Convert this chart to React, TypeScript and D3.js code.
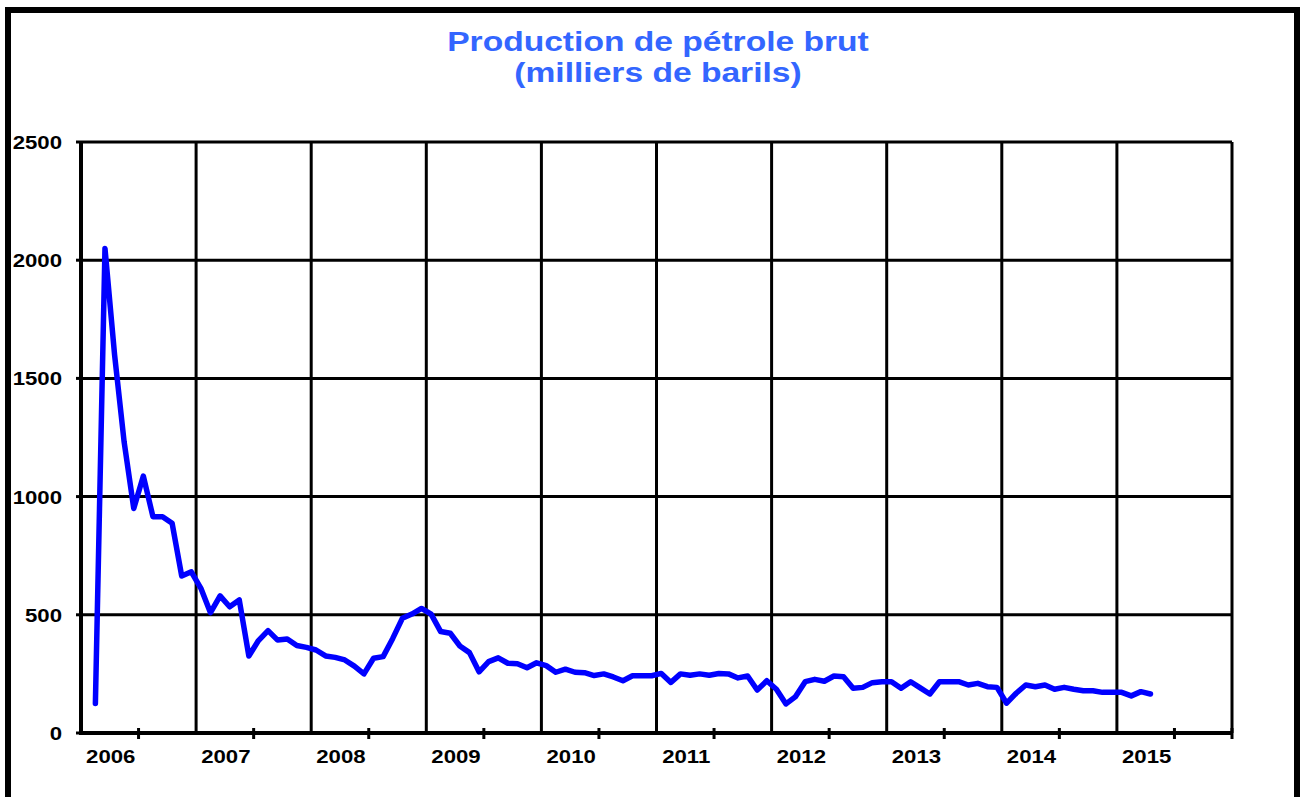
import { useEffect, useRef } from "react";
import * as d3 from "d3";

const LAYOUT = {
  width: 1306,
  height: 797,
  plot: { left: 81, right: 1232, top: 142, bottom: 733 },
};

const TITLE_LINES = ["Production de pétrole brut", "(milliers de barils)"];
const YEAR_LABELS = ["2006", "2007", "2008", "2009", "2010", "2011", "2012", "2013", "2014", "2015"];
const Y_TICKS = [0, 500, 1000, 1500, 2000, 2500];

// monthly output, first value is February 2006 (month index 1)
const FIRST_MONTH = 1;
const PRODUCTION = [
  125, 2050, 1600, 1230, 950, 1087, 915, 915, 887, 664, 682,
  612, 509, 580, 534, 563, 326, 391, 433, 393, 398, 370, 362,
  351, 326, 320, 309, 283, 250, 316, 323, 400, 485, 503, 527,
  503, 429, 422, 368, 340, 259, 302, 318, 295, 293, 276, 297,
  285, 257, 270, 257, 255, 243, 250, 237, 221, 242, 242, 242,
  252, 214, 250, 244, 250, 244, 252, 250, 233, 241, 182, 221,
  185, 123, 154, 217, 227, 219, 241, 238, 189, 193, 213, 217,
  217, 189, 217, 191, 165, 217, 217, 217, 203, 210, 196, 193,
  126, 168, 203, 196, 203, 185, 193, 185, 179, 179, 172, 172,
  172, 157, 175, 165,
];

const FONT = "'Liberation Sans', Arial, sans-serif";
const STRETCH = 1.2; // the source picture is widened horizontally

function buildScales() {
  const { plot } = LAYOUT;
  const x = d3.scaleLinear().domain([0, YEAR_LABELS.length * 12]).range([plot.left, plot.right]);
  const y = d3.scaleLinear().domain([0, 2500]).range([plot.bottom, plot.top]);
  return { x, y };
}

function drawFrame(svg) {
  svg
    .append("path")
    .attr("d", `M8,${LAYOUT.height} L8,10 L1297,10 L1297,${LAYOUT.height}`)
    .attr("fill", "none")
    .attr("stroke", "#000")
    .attr("stroke-width", 6);
}

function drawTitle(svg) {
  TITLE_LINES.forEach((line, i) => {
    svg
      .append("text")
      .attr("transform", `translate(658,${51 + i * 31}) scale(${STRETCH},1)`)
      .attr("text-anchor", "middle")
      .attr("font-family", FONT)
      .attr("font-weight", "bold")
      .attr("font-size", 28)
      .attr("fill", "#3366ff")
      .text(line);
  });
}

function drawGrid(svg, { x, y }) {
  const { plot } = LAYOUT;
  const g = svg.append("g").attr("stroke", "#000").attr("stroke-width", 3);

  Y_TICKS.filter((v) => v > 0).forEach((v) => {
    g.append("line")
      .attr("x1", plot.left)
      .attr("x2", plot.right)
      .attr("y1", y(v))
      .attr("y2", y(v));
  });

  d3.range(12, YEAR_LABELS.length * 12 + 1, 12).forEach((m) => {
    g.append("line")
      .attr("x1", x(m))
      .attr("x2", x(m))
      .attr("y1", plot.top)
      .attr("y2", plot.bottom);
  });
}

function drawAxes(svg, { x, y }) {
  const { plot } = LAYOUT;
  const g = svg.append("g").attr("stroke", "#000");

  g.append("line")
    .attr("x1", plot.left)
    .attr("x2", plot.left)
    .attr("y1", plot.top - 1)
    .attr("y2", plot.bottom + 2)
    .attr("stroke-width", 4);
  g.append("line")
    .attr("x1", plot.left - 2)
    .attr("x2", plot.right + 1)
    .attr("y1", plot.bottom)
    .attr("y2", plot.bottom)
    .attr("stroke-width", 4);

  Y_TICKS.forEach((v) => {
    g.append("line")
      .attr("x1", plot.left - 5)
      .attr("x2", plot.left)
      .attr("y1", y(v))
      .attr("y2", y(v))
      .attr("stroke-width", 3);

    svg
      .append("text")
      .attr("transform", `translate(62,${y(v) + 7}) scale(${STRETCH},1)`)
      .attr("text-anchor", "end")
      .attr("font-family", FONT)
      .attr("font-weight", "bold")
      .attr("font-size", 18.5)
      .attr("fill", "#000")
      .text(v);
  });

  // small ticks sit mid-year, plus one closing tick at the right end
  const tickMonths = d3.range(6, YEAR_LABELS.length * 12, 12).concat([YEAR_LABELS.length * 12]);
  tickMonths.forEach((m) => {
    g.append("line")
      .attr("x1", x(m))
      .attr("x2", x(m))
      .attr("y1", plot.bottom - 5)
      .attr("y2", plot.bottom + 6)
      .attr("stroke-width", 3);
  });

  YEAR_LABELS.forEach((label, i) => {
    svg
      .append("text")
      .attr("transform", `translate(${x(i * 12 + 3.1)},763) scale(${STRETCH},1)`)
      .attr("text-anchor", "middle")
      .attr("font-family", FONT)
      .attr("font-weight", "bold")
      .attr("font-size", 18.5)
      .attr("fill", "#000")
      .text(label);
  });
}

function drawLine(svg, { x, y }) {
  const points = PRODUCTION.map((v, i) => ({ m: FIRST_MONTH + i + 0.5, v }));
  const line = d3
    .line()
    .x((d) => x(d.m))
    .y((d) => y(d.v));

  svg
    .append("path")
    .datum(points)
    .attr("fill", "none")
    .attr("stroke", "#0000ff")
    .attr("stroke-width", 5.5)
    .attr("stroke-linejoin", "round")
    .attr("stroke-linecap", "round")
    .attr("d", line);
}

export default function App() {
  const svgRef = useRef(null);

  useEffect(() => {
    const node = svgRef.current;
    if (!node) return;
    const svg = d3.select(node);
    svg.selectAll("*").remove();

    const scales = buildScales();
    drawFrame(svg);
    drawTitle(svg);
    drawGrid(svg, scales);
    drawLine(svg, scales);
    drawAxes(svg, scales);
  }, []);

  return (
    <svg
      ref={svgRef}
      width={LAYOUT.width}
      height={LAYOUT.height}
      viewBox={`0 0 ${LAYOUT.width} ${LAYOUT.height}`}
      style={{ position: "absolute", left: 0, top: 0, background: "#fff" }}
    />
  );
}
